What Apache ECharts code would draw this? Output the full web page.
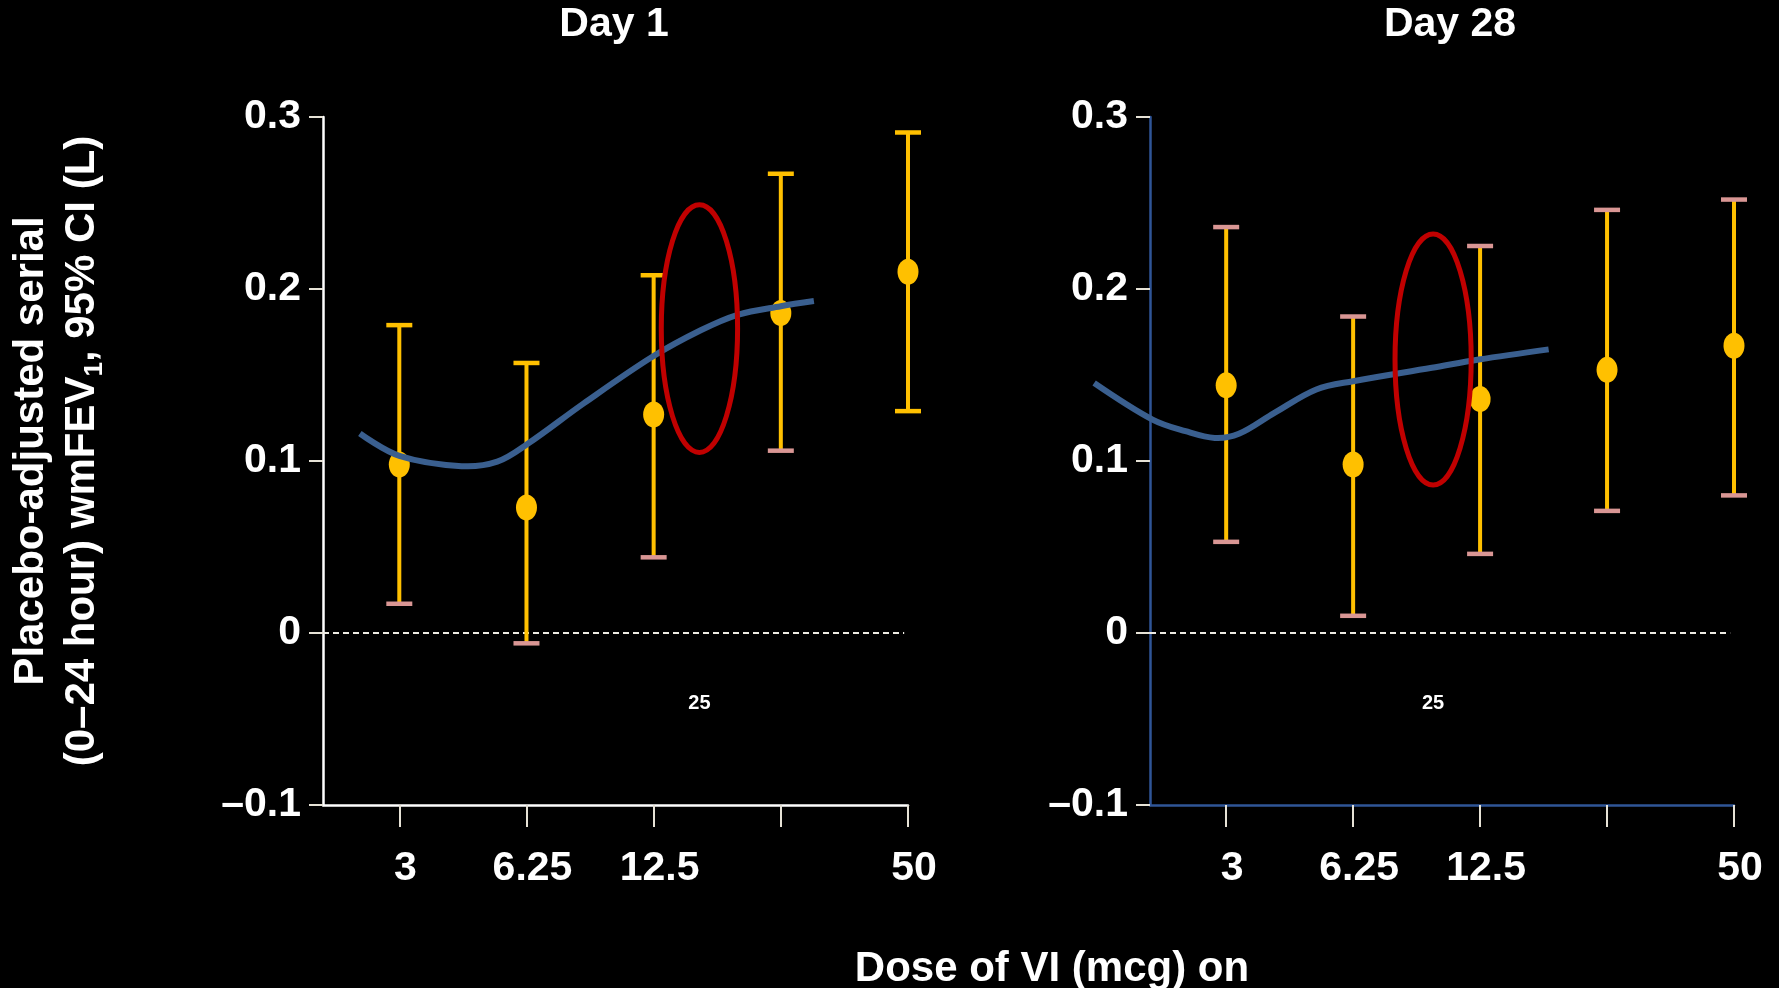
<!DOCTYPE html>
<html>
<head>
<meta charset="utf-8">
<script src="https://cdn.jsdelivr.net/npm/echarts@6/dist/echarts.min.js"></script>
<style>
  html, body { margin: 0; padding: 0; background: #000; }
  #chart { width: 1779px; height: 988px; }
</style>
</head>
<body>
<div id="chart"></div>
<script>
// dose categories (equally spaced on the x axis, index 0..4)
const doses = ['3', '6.25', '12.5', '25', '50'];
const doseTickLabels = ['3', '6.25', '12.5', '', '50'];
const yTicks = [-0.1, 0, 0.1, 0.2, 0.3];

// Day 1: placebo-adjusted mean and 95% CI
const day1Mean = [0.098, 0.073, 0.127, 0.186, 0.210];
const day1Lower = [0.017, -0.006, 0.044, 0.106, 0.129];
const day1Upper = [0.179, 0.157, 0.208, 0.267, 0.291];

// Day 28
const day28Mean = [0.144, 0.098, 0.136, 0.153, 0.167];
const day28Lower = [0.053, 0.010, 0.046, 0.071, 0.080];
const day28Upper = [0.236, 0.184, 0.225, 0.246, 0.252];

// fitted dose-response curves (x = position on dose axis)
const day1CurveX = [-0.31, 0, 0.49, 0.77, 1.01, 1.45, 1.99, 2.37, 2.66, 3.0, 3.26];
const day1CurveY = [0.116, 0.103, 0.097, 0.0996, 0.110, 0.1335, 0.1606, 0.176, 0.185, 0.190, 0.193];
const day28CurveX = [-1.04, -0.58, -0.32, -0.09, 0.10, 0.38, 0.71, 1.0, 1.62, 1.99, 2.54];
const day28CurveY = [0.1454, 0.1241, 0.1173, 0.1134, 0.1158, 0.128, 0.1416, 0.1464, 0.1542, 0.159, 0.1649];

// red highlight ellipse (centre, half-width in dose positions, half-height in L)
const day1Highlight = [2.36, 0.177, 0.30, 0.072];
const day28Highlight = [1.63, 0.159, 0.30, 0.073];
const highlightNote = '25';
const highlightNoteY = -0.041;

// colours
const GOLD = '#FFC000';
const PINK = '#D99694';
const CURVE = '#3A5F8F';
const day1CapTop = [GOLD, GOLD, GOLD, GOLD, GOLD];
const day1CapBottom = [PINK, PINK, PINK, PINK, GOLD];
const day28CapTop = [PINK, PINK, PINK, PINK, PINK];
const day28CapBottom = [PINK, PINK, PINK, PINK, PINK];

const FONT = "'Liberation Sans', Arial, sans-serif";

const chart = echarts.init(document.getElementById('chart'));

function makeX(idx, axisColor) {
  return {
    type: 'value',
    gridIndex: idx,
    min: -0.6,
    max: 4,
    splitLine: { show: false },
    axisLine: { show: true, onZero: false, lineStyle: { color: axisColor, width: 2.5 } },
    axisTick: {
      show: true, length: 22, customValues: [0, 1, 2, 3, 4],
      lineStyle: { color: '#E6E2D6', width: 2 }
    },
    axisLabel: {
      customValues: [0, 1, 2, 4],
      formatter: v => doseTickLabels[Math.round(v)],
      color: '#fff', fontSize: 41, fontWeight: 'bold', fontFamily: FONT,
      margin: 43, padding: [0, 0, 0, 12]
    }
  };
}

function makeY(idx, axisColor) {
  return {
    type: 'value',
    gridIndex: idx,
    min: yTicks[0],
    max: yTicks[yTicks.length - 1],
    interval: 0.1,
    splitLine: { show: false },
    axisLine: { show: true, onZero: false, lineStyle: { color: axisColor, width: 2.5 } },
    axisTick: { show: true, length: 14, lineStyle: { color: '#E6E2D6', width: 2 } },
    axisLabel: {
      formatter: v => (Math.abs(v) < 1e-9 ? '0' : (v < 0 ? '\u2013' + Math.abs(v).toFixed(1) : v.toFixed(1))),
      color: '#fff', fontSize: 41, fontWeight: 'bold', fontFamily: FONT, margin: 22,
      padding: [12, 0, 0, 0]
    }
  };
}

function panelSeries(idx, mean, lower, upper, capTop, capBottom, curveX, curveY, hl) {
  const bars = mean.map((m, i) => [i, lower[i], upper[i]]);
  return [
    {
      type: 'line',
      xAxisIndex: idx, yAxisIndex: idx,
      data: [[-0.6, 0], [3.97, 0]],
      symbol: 'none',
      lineStyle: { color: '#EDEBE3', width: 2, type: [6, 4] },
      z: 1, silent: true
    },
    {
      type: 'custom',
      xAxisIndex: idx, yAxisIndex: idx,
      data: bars,
      z: 2,
      renderItem: (params, api) => {
        const i = params.dataIndex;
        const lo = api.coord([api.value(0), api.value(1)]);
        const hi = api.coord([api.value(0), api.value(2)]);
        const capW = 26, capH = 4.5;
        return {
          type: 'group',
          children: [
            { type: 'line', shape: { x1: lo[0], y1: lo[1], x2: hi[0], y2: hi[1] },
              style: { stroke: GOLD, lineWidth: 4 } },
            { type: 'rect', shape: { x: hi[0] - capW / 2, y: hi[1] - capH / 2, width: capW, height: capH },
              style: { fill: capTop[i] } },
            { type: 'rect', shape: { x: lo[0] - capW / 2, y: lo[1] - capH / 2, width: capW, height: capH },
              style: { fill: capBottom[i] } }
          ]
        };
      }
    },
    {
      type: 'scatter',
      xAxisIndex: idx, yAxisIndex: idx,
      data: mean.map((m, i) => [i, m]),
      symbol: 'circle',
      symbolSize: [21, 26],
      itemStyle: { color: GOLD, opacity: 1 },
      z: 3
    },
    {
      // fitted curve drawn as one smooth polyline so it may run past the axis start
      type: 'custom',
      xAxisIndex: idx, yAxisIndex: idx,
      data: curveX.map((x, i) => [x, curveY[i]]),
      clip: false,
      z: 4,
      renderItem: (params, api) => {
        if (params.dataIndex !== 0) return null;
        const pts = curveX.map((x, i) => api.coord([x, curveY[i]]));
        return {
          type: 'polyline',
          shape: { points: pts, smooth: 0.35 },
          style: { stroke: CURVE, lineWidth: 6, fill: null }
        };
      }
    },
    {
      type: 'custom',
      xAxisIndex: idx, yAxisIndex: idx,
      data: [hl],
      clip: false,
      z: 5,
      renderItem: (params, api) => {
        const c = api.coord([api.value(0), api.value(1)]);
        const sz = api.size([api.value(2), api.value(3)]);
        const t = api.coord([api.value(0), highlightNoteY]);
        return {
          type: 'group',
          children: [
            { type: 'ellipse', shape: { cx: c[0], cy: c[1], rx: sz[0], ry: sz[1] },
              style: { fill: 'none', stroke: '#C00000', lineWidth: 5 } },
            { type: 'text', x: t[0], y: t[1],
              style: { text: highlightNote, fill: '#fff', font: 'bold 20px ' + FONT,
                       align: 'center', verticalAlign: 'middle' } }
          ]
        };
      }
    }
  ];
}

chart.setOption({
  backgroundColor: '#000',
  animation: false,
  grid: [
    { left: 323, top: 117, width: 585, height: 688, outerBoundsMode: 'none' },
    { left: 1150, top: 117, width: 584, height: 688, outerBoundsMode: 'none' }
  ],
  xAxis: [makeX(0, '#FFFFFF'), makeX(1, '#2F5597')],
  yAxis: [makeY(0, '#FFFFFF'), makeY(1, '#2F5597')],
  graphic: [
    { type: 'text', x: 614, y: 25,
      style: { text: 'Day 1', fill: '#fff', font: 'bold 41px ' + FONT, align: 'center', verticalAlign: 'middle' } },
    { type: 'text', x: 1450, y: 25,
      style: { text: 'Day 28', fill: '#fff', font: 'bold 41px ' + FONT, align: 'center', verticalAlign: 'middle' } },
    { type: 'text', x: 57, y: 451, rotation: Math.PI / 2,
      style: {
        text: 'Placebo-adjusted serial\n(0\u201324 hour) wmFEV{sub|1}, 95% CI (L)',
        fill: '#fff', font: 'bold 42px ' + FONT, align: 'center', verticalAlign: 'middle',
        lineHeight: 51,
        rich: { sub: { fontSize: 26, fontWeight: 'bold', fontFamily: FONT, fill: '#fff', verticalAlign: 'bottom', lineHeight: 51 } }
      } },
    { type: 'text', x: 1052, y: 969,
      style: { text: 'Dose of VI (mcg) on', fill: '#fff', font: 'bold 42px ' + FONT, align: 'center', verticalAlign: 'middle' } }
  ],
  series: [
    ...panelSeries(0, day1Mean, day1Lower, day1Upper, day1CapTop, day1CapBottom, day1CurveX, day1CurveY, day1Highlight),
    ...panelSeries(1, day28Mean, day28Lower, day28Upper, day28CapTop, day28CapBottom, day28CurveX, day28CurveY, day28Highlight)
  ]
});

window.onresize = function () {
  chart.resize();
};
</script>
</body>
</html>
